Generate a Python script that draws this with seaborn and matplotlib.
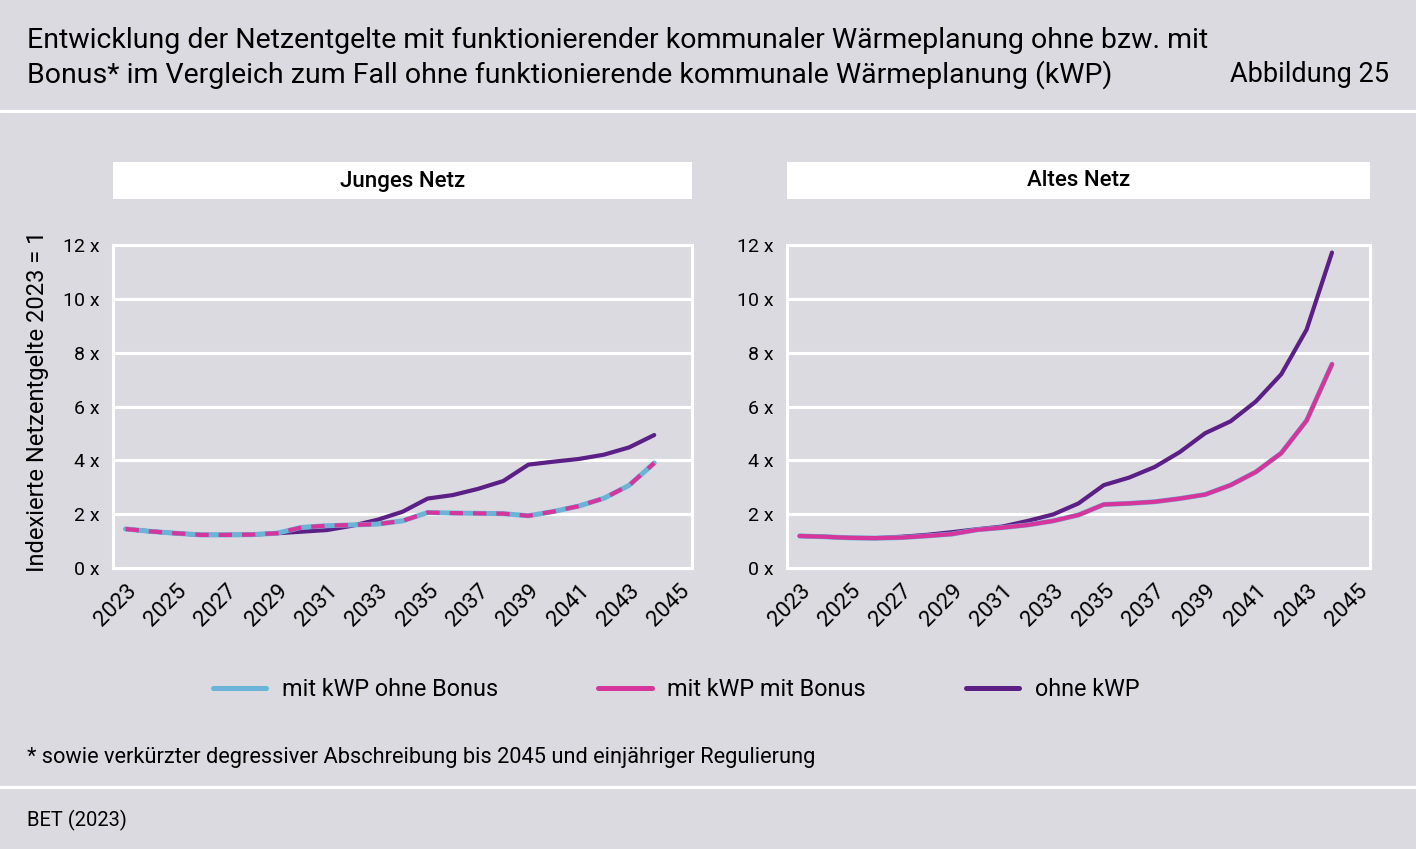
import matplotlib
matplotlib.use('Agg')
import matplotlib.pyplot as plt
import seaborn as sns
from matplotlib.lines import Line2D
from matplotlib.patches import Rectangle

# jahre und werte (index 2023 = 1)
jahre = list(range(2023, 2045))
tick_jahre = list(range(2023, 2046, 2))

jung_ohne_bonus = [1.45, 1.36, 1.29, 1.23, 1.23, 1.24, 1.29, 1.51, 1.57, 1.60, 1.63, 1.75,
                   2.06, 2.04, 2.03, 2.02, 1.94, 2.10, 2.30, 2.59, 3.07, 3.90]
jung_mit_bonus = jung_ohne_bonus
jung_ohne_kwp = [1.45, 1.36, 1.29, 1.23, 1.23, 1.24, 1.29, 1.35, 1.41, 1.57, 1.79, 2.09,
                 2.58, 2.71, 2.94, 3.23, 3.84, 3.95, 4.05, 4.21, 4.48, 4.94]

alt_ohne_bonus = [1.19, 1.16, 1.12, 1.11, 1.13, 1.19, 1.26, 1.42, 1.50, 1.60, 1.75, 1.97,
                  2.36, 2.40, 2.46, 2.58, 2.73, 3.08, 3.57, 4.27, 5.48, 7.57]
alt_mit_bonus = alt_ohne_bonus
alt_ohne_kwp = [1.19, 1.16, 1.12, 1.11, 1.16, 1.23, 1.33, 1.44, 1.54, 1.75, 1.99, 2.40,
                3.08, 3.36, 3.75, 4.31, 5.01, 5.45, 6.19, 7.20, 8.86, 11.72]

y_ticks = [0, 2, 4, 6, 8, 10, 12]

bg = '#dbdae0'
c_blau = '#6ab4d8'
c_magenta = '#d6359b'
c_lila = '#5b1f86'

sns.set_theme(style='white')
plt.rcParams['font.family'] = ['Roboto', 'DejaVu Sans']
plt.rcParams['text.color'] = 'black'

W, H = 1416, 849
fig = plt.figure(figsize=(W / 100, H / 100), dpi=100, facecolor=bg)


def fx(px):
    return px / W


def fy(py):
    return 1 - py / H


def panel(left, right, titel, ohne_bonus, mit_bonus, ohne_kwp, gestrichelt):
    ax = fig.add_axes([fx(left), fy(568), fx(right - left), (568 - 245) / H])
    ax.set_facecolor(bg)
    sns.lineplot(x=jahre, y=ohne_kwp, ax=ax, color=c_lila, linewidth=3.0)
    sns.lineplot(x=jahre, y=ohne_bonus, ax=ax, color=c_blau, linewidth=3.6)
    if gestrichelt:
        sns.lineplot(x=jahre, y=mit_bonus, ax=ax, color=c_magenta, linewidth=3.0,
                     linestyle=(0, (3.2, 2.4)))
    else:
        sns.lineplot(x=jahre, y=mit_bonus, ax=ax, color=c_magenta, linewidth=3.0)
    ax.set_xlim(2022.5, 2045.5)
    ax.set_ylim(0, 12)
    ax.set_yticks(y_ticks)
    ax.set_yticklabels([f'{v} x' for v in y_ticks])
    ax.set_xticks(tick_jahre)
    ax.set_xticklabels([str(j) for j in tick_jahre], rotation=45, ha='right',
                       rotation_mode='anchor')
    ax.tick_params(axis='both', length=0, colors='black')
    ax.tick_params(axis='y', pad=10, labelsize=14)
    ax.tick_params(axis='x', pad=9, labelsize=16)
    ax.grid(axis='y', color='white', linewidth=2.2)
    ax.set_axisbelow(True)
    for s in ax.spines.values():
        s.set_color('white')
        s.set_linewidth(2.2)
    ax.set_xlabel('')
    ax.set_ylabel('')
    # weisse titelbox ueber dem panel
    fig.add_artist(Rectangle((fx(left), fy(199)), fx(right - left), (199 - 162) / H,
                             transform=fig.transFigure, facecolor='white',
                             edgecolor='none'))
    fig.text(fx((left + right) / 2), fy(181), titel, ha='center', va='center',
             fontsize=16, fontweight='medium')
    return ax


ax1 = panel(113, 692, 'Junges Netz', jung_ohne_bonus, jung_mit_bonus, jung_ohne_kwp, True)
ax2 = panel(787, 1370, 'Altes Netz', alt_ohne_bonus, alt_mit_bonus, alt_ohne_kwp, False)

fig.text(fx(38), fy(401), 'Indexierte Netzentgelte 2023 = 1', rotation=90,
         ha='center', va='center', fontsize=17)

# titel
fig.text(fx(27), fy(40), 'Entwicklung der Netzentgelte mit funktionierender kommunaler '
         'Wärmeplanung ohne bzw. mit', ha='left', va='center', fontsize=20.5)
fig.text(fx(27), fy(75), 'Bonus* im Vergleich zum Fall ohne funktionierende kommunale '
         'Wärmeplanung (kWP)', ha='left', va='center', fontsize=20.5)
fig.text(fx(1389), fy(75), 'Abbildung 25', ha='right', va='center', fontsize=19.5)

# trennlinien
for yy in (111, 787):
    fig.add_artist(Line2D([0, 1], [fy(yy), fy(yy)], transform=fig.transFigure,
                          color='white', linewidth=2.2))

# legende
handles = [Line2D([], [], color=c_blau, linewidth=3.6),
           Line2D([], [], color=c_magenta, linewidth=3.6),
           Line2D([], [], color=c_lila, linewidth=3.6)]
labels = ['mit kWP ohne Bonus', 'mit kWP mit Bonus', 'ohne kWP']
fig.legend(handles, labels, loc='center', bbox_to_anchor=(fx(676), fy(690)), ncol=3,
           frameon=False, fontsize=16.8, handlelength=2.3, handletextpad=0.65,
           columnspacing=4.3)

fig.text(fx(27), fy(757), '* sowie verkürzter degressiver Abschreibung bis 2045 und '
         'einjähriger Regulierung', ha='left', va='center', fontsize=15.7)
fig.text(fx(27), fy(820), 'BET (2023)', ha='left', va='center', fontsize=14.5)

fig.savefig('out.png', dpi=100, facecolor=bg)
